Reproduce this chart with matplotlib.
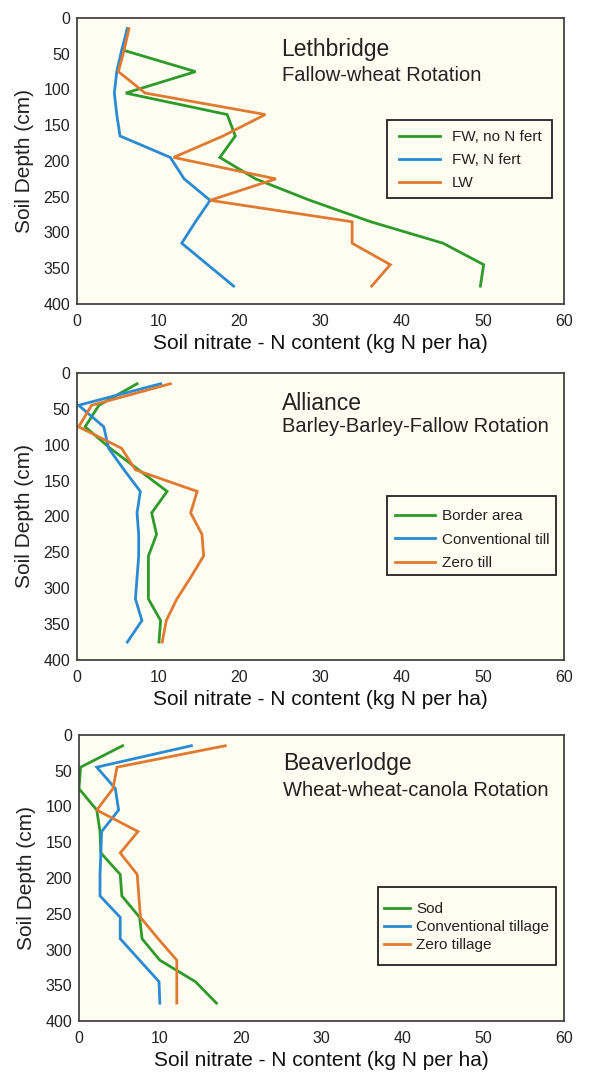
import matplotlib
matplotlib.use("Agg")
import matplotlib.pyplot as plt
from matplotlib.patches import Rectangle

plt.rcParams['font.family'] = ['Liberation Sans', 'DejaVu Sans']

# ---------------- data ----------------
depth = [15, 45, 75, 105, 135, 165, 195, 225, 255, 285, 315, 345, 375]

leth_labels = ["FW, no N fert", "FW, N fert", "LW"]
leth_fw_non = [6.2, 5.7, 14.6, 6.0, 18.5, 19.5, 17.6, 22.0, 28.7, 36.2, 45.1, 50.1, 49.7]
leth_fw_n = [6.2, 5.5, 4.9, 4.6, 4.9, 5.3, 11.5, 13.2, 16.4, 14.6, 12.9, 16.1, 19.3]
leth_lw = [6.4, 5.8, 5.1, 8.4, 23.2, 18.0, 11.9, 24.5, 16.4, 33.9, 33.9, 38.6, 36.3]

alli_labels = ["Border area", "Conventional till", "Zero till"]
alli_border = [7.4, 2.7, 1.0, 4.1, 7.6, 11.1, 9.2, 9.8, 8.8, 8.8, 8.8, 10.3, 10.1]
alli_conv = [10.3, 0.2, 3.3, 3.9, 5.8, 7.8, 7.4, 7.6, 7.6, 7.4, 7.2, 8.0, 6.2]
alli_zero = [11.5, 1.8, 0.2, 5.5, 7.2, 14.8, 14.0, 15.4, 15.6, 14.0, 12.3, 11.0, 10.5]

beav_labels = ["Sod", "Conventional tillage", "Zero tillage"]
beav_sod = [5.4, 0.2, 0.0, 2.2, 2.6, 2.7, 5.1, 5.3, 7.5, 7.8, 10.0, 14.4, 17.0]
beav_conv = [13.9, 2.2, 4.5, 4.9, 2.8, 2.7, 2.6, 2.6, 5.1, 5.1, 7.5, 9.9, 10.0]
beav_zero = [18.1, 4.7, 4.2, 2.2, 7.3, 5.1, 7.2, 7.4, 7.6, 9.8, 12.1, 12.1, 12.1]

xticks = [0, 10, 20, 30, 40, 50, 60]
yticks = [0, 50, 100, 150, 200, 250, 300, 350, 400]

colors = ["#2e9a2a", "#2a8ad2", "#e07a30"]
bg = "#fdfdf1"

panels = [
    dict(series=[leth_fw_non, leth_fw_n, leth_lw], labels=leth_labels,
         title="Lethbridge", sub="Fallow-wheat Rotation",
         rect=[77/604, 1-304/1072, 487/604, 286/1072],
         ty=0.89, sy=0.80,
         box=(0.6366, 0.371, 0.975-0.6366, 0.643-0.371),
         leg=(0.661, 0.608), hl=2.7, htp=0.78, ls=0.6),
    dict(series=[alli_border, alli_conv, alli_zero], labels=alli_labels,
         title="Alliance", sub="Barley-Barley-Fallow Rotation",
         rect=[77/604, 1-660/1072, 487/604, 287/1072],
         ty=0.895, sy=0.815,
         box=(0.6366, 0.296, 0.9836-0.6366, 0.571-0.296),
         leg=(0.653, 0.526), hl=2.6, htp=0.5, ls=0.62),
    dict(series=[beav_sod, beav_conv, beav_zero], labels=beav_labels,
         title="Beaverlodge", sub="Wheat-wheat-canola Rotation",
         rect=[79/604, 1-1021/1072, 485/604, 286/1072],
         ty=0.90, sy=0.805,
         box=(0.6165, 0.196, 0.9835-0.6165, 0.4685-0.196),
         leg=(0.629, 0.415), hl=1.7, htp=0.4, ls=0.25),
]

fig = plt.figure(figsize=(6.04, 10.72), dpi=100)

for p in panels:
    ax = fig.add_axes(p["rect"])
    ax.set_facecolor(bg)
    for vals, lab, c in zip(p["series"], p["labels"], colors):
        ax.plot(vals, depth, color=c, lw=2.0, label=lab, solid_joinstyle='miter')
    ax.set_xlim(0, 60)
    ax.set_ylim(400, 0)
    ax.set_xticks(xticks)
    ax.set_yticks(yticks)
    ax.tick_params(length=0, labelsize=11.5, colors="#222222")
    ax.tick_params(axis='x', pad=7)
    ax.tick_params(axis='y', pad=5)
    for s in ax.spines.values():
        s.set_color("#444444")
        s.set_linewidth(1.3)
    ax.set_xlabel("Soil nitrate - N content (kg N per ha)", fontsize=15, labelpad=4, color="#111111")
    ax.set_ylabel("Soil Depth (cm)", fontsize=15, labelpad=7, color="#222222")
    ax.text(0.42, p["ty"], p["title"], transform=ax.transAxes, fontsize=16.5,
            va="center", ha="left", color="#222222")
    ax.text(0.42, p["sy"], p["sub"], transform=ax.transAxes, fontsize=14.5,
            va="center", ha="left", color="#222222")
    bx, by, bw, bh = p["box"]
    ax.add_patch(Rectangle((bx, by), bw, bh, transform=ax.transAxes,
                           facecolor=bg, edgecolor="#222222", lw=1.3, zorder=4))
    leg = ax.legend(loc="upper left", bbox_to_anchor=p["leg"], frameon=False,
                    fontsize=11, handlelength=p["hl"], borderpad=0,
                    labelspacing=p["ls"], handletextpad=p["htp"], borderaxespad=0)
    leg.set_zorder(5)
    for t in leg.get_texts():
        t.set_color("#222222")

fig.savefig("out.png", dpi=100, facecolor="white")
